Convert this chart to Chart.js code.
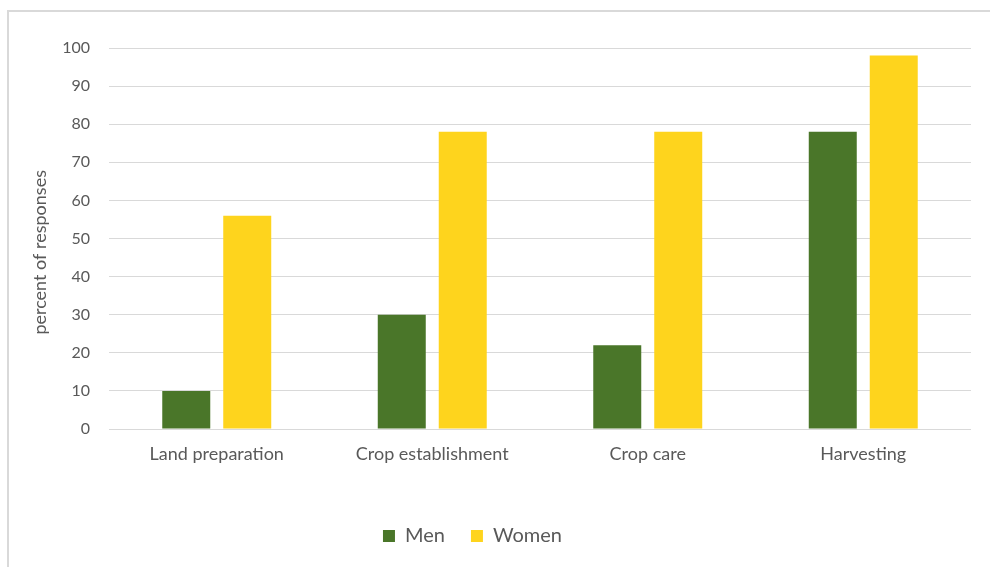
<!DOCTYPE html>
<html>
<head>
    <title>Participation by activity</title>
    <script src="https://cdn.jsdelivr.net/npm/chart.js"></script>
    <style>
        body { margin: 0; background: #fff; overflow: hidden; }
        .frame {
            position: absolute; left: 7px; top: 10px;
            width: 1000px; height: 600px;
            border: 2px solid #d9d9d9;
        }
        .wrap { position: absolute; left: 0; top: 0; width: 990px; height: 567px; }
    </style>
</head>
<body>
<div class="frame"></div>
<div class="wrap">
    <canvas id="activityChart" width="990" height="567"></canvas>
</div>
<script>
    const activities = ['Land preparation', 'Crop establishment', 'Crop care', 'Harvesting'];
    const menValues = [10, 30, 22, 78];
    const womenValues = [56, 78, 78, 98];
    const yTicks = [0, 10, 20, 30, 40, 50, 60, 70, 80, 90, 100];

    const textColor = '#595959';
    const fontFamily = 'Lato, "Open Sans", sans-serif';

    // legend sits a little left of the canvas centre
    const legendShift = {
        id: 'legendShift',
        afterLayout: chart => {
            chart.legend.left -= 13;
            chart.legend.right -= 13;
        }
    };

    let ctx = document.getElementById('activityChart').getContext('2d');
    let chart = new Chart(ctx, {
        type: 'bar',
        data: {
            labels: activities,
            datasets: [{
                label: 'Men',
                data: menValues,
                backgroundColor: '#4a7629'
            }, {
                label: 'Women',
                data: womenValues,
                backgroundColor: '#fed41d'
            }]
        },
        options: {
            responsive: false,
            animation: false,
            datasets: {
                bar: { categoryPercentage: 0.566, barPercentage: 0.787 }
            },
            layout: { padding: { top: 48, right: 19, left: 0, bottom: 11 } },
            plugins: {
                tooltip: { enabled: false },
                legend: {
                    position: 'bottom',
                    labels: {
                        color: textColor,
                        font: { family: fontFamily, size: 20 },
                        boxWidth: 12,
                        boxHeight: 12,
                        padding: 26
                    }
                }
            },
            scales: {
                x: {
                    grid: { display: false, drawTicks: false },
                    border: { display: false },
                    ticks: { color: textColor, font: { family: fontFamily, size: 18 }, padding: 14 },
                    afterFit: scale => { scale.height = 71; }
                },
                y: {
                    min: 0,
                    max: 100,
                    afterBuildTicks: scale => { scale.ticks = yTicks.map(v => ({ value: v })); },
                    grid: { color: '#d9d9d9', lineWidth: 1, drawTicks: false },
                    border: { display: false },
                    ticks: { color: textColor, font: { family: fontFamily, size: 16 }, padding: 19 },
                    title: {
                        display: true,
                        // trailing spaces nudge the rotated title slightly below centre
                        text: 'percent of responses      ',
                        color: textColor,
                        font: { family: fontFamily, size: 18 },
                        padding: { top: 29 }
                    },
                    afterFit: scale => { scale.width = 109; }
                }
            }
        },
        plugins: [legendShift]
    });
</script>
</body>
</html>
